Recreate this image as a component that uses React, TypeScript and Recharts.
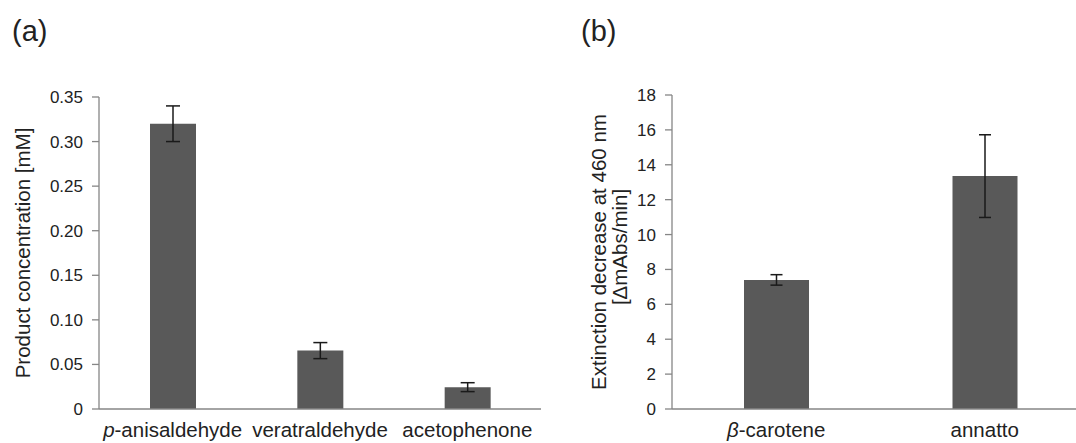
import React from 'react';
import { BarChart, Bar, XAxis, YAxis, ErrorBar, Label } from 'recharts';

const productNames = ['p-anisaldehyde', 'veratraldehyde', 'acetophenone'];
const productValues = [0.32, 0.0655, 0.0245];
const productErrors = [0.02, 0.009, 0.005];
const productTicks = [0, 0.05, 0.1, 0.15, 0.2, 0.25, 0.3, 0.35];

const substrateNames = ['β-carotene', 'annatto'];
const substrateValues = [7.4, 13.35];
const substrateErrors = [0.3, 2.37];
const substrateTicks = [0, 2, 4, 6, 8, 10, 12, 14, 16, 18];

const dataA = productNames.map((name, i) => ({ name, value: productValues[i], err: productErrors[i] }));
const dataB = substrateNames.map((name, i) => ({ name, value: substrateValues[i], err: substrateErrors[i] }));

const FONT = '"Liberation Sans", Arial, sans-serif';
const AXIS = '#868686';
const BAR = '#595959';
const TEXT = '#222';

// category label, prefix before "-" goes italic (p-, β-)
const CatTick = (props: any) => {
  const { x, y, payload } = props;
  const s: string = payload.value;
  const italic = s.indexOf('-') === 1;
  return (
    <text x={x} y={y + 28} textAnchor="middle" fontSize={20.5} fill={TEXT} fontFamily={FONT}>
      {italic ? (
        <>
          <tspan fontStyle="italic">{s.slice(0, 1)}</tspan>
          <tspan>{s.slice(1)}</tspan>
        </>
      ) : (
        s
      )}
    </text>
  );
};

const labelA = (p: any) => {
  const vb = p.viewBox;
  const cy = vb.y + vb.height / 2;
  const lx = vb.x + 30;
  return (
    <g fontFamily={FONT} fill={TEXT}>
      <text x={12} y={41} fontSize={29}>(a)</text>
      <text x={lx} y={cy} fontSize={20.5} textAnchor="middle" transform={`rotate(-90 ${lx} ${cy})`}>
        Product concentration [mM]
      </text>
    </g>
  );
};

const labelB = (p: any) => {
  const vb = p.viewBox;
  const cy = vb.y + vb.height / 2;
  const l1 = vb.x + 66;
  const l2 = vb.x + 87;
  return (
    <g fontFamily={FONT} fill={TEXT}>
      <text x={41} y={41} fontSize={29}>(b)</text>
      <text x={l1} y={cy} fontSize={20.5} textAnchor="middle" transform={`rotate(-90 ${l1} ${cy})`}>
        Extinction decrease at 460 nm
      </text>
      <text x={l2} y={cy - 5} fontSize={20.5} textAnchor="middle" transform={`rotate(-90 ${l2} ${cy - 5})`}>
        [ΔmAbs/min]
      </text>
    </g>
  );
};

export default function App() {
  return (
    <div
      style={{
        position: 'absolute',
        left: 0,
        top: 0,
        width: 1076,
        height: 443,
        overflow: 'hidden',
        background: '#fff',
        fontFamily: FONT,
      }}
    >
      <div style={{ position: 'absolute', left: 0, top: 0 }}>
        <BarChart width={548} height={443} data={dataA} margin={{ top: 97, right: 7, bottom: 0, left: 0 }}>
          <XAxis
            dataKey="name"
            height={34}
            interval={0}
            axisLine={{ stroke: AXIS, strokeWidth: 1.3 }}
            tickLine={false}
            tickSize={0}
            tickMargin={0}
            tick={<CatTick />}
          />
          <YAxis
            width={99}
            domain={[0, 0.35]}
            ticks={productTicks}
            tickFormatter={(v: number) => (v === 0 ? '0' : v.toFixed(2))}
            tick={{ fill: TEXT, fontSize: 17, fontFamily: FONT }}
            tickSize={7}
            tickMargin={9}
            axisLine={{ stroke: AXIS, strokeWidth: 1.3 }}
            tickLine={{ stroke: AXIS, strokeWidth: 1.3 }}
          >
            <Label content={labelA} />
          </YAxis>
          <Bar dataKey="value" fill={BAR} barSize={46} isAnimationActive={false}>
            <ErrorBar dataKey="err" width={7} stroke="#1a1a1a" strokeWidth={1.5} />
          </Bar>
        </BarChart>
      </div>
      <div style={{ position: 'absolute', left: 540, top: 0 }}>
        <BarChart width={560} height={443} data={dataB} margin={{ top: 95, right: 11, bottom: 0, left: 0 }}>
          <XAxis
            dataKey="name"
            height={34}
            interval={0}
            axisLine={{ stroke: AXIS, strokeWidth: 1.3 }}
            tickLine={false}
            tickSize={0}
            tickMargin={0}
            tick={<CatTick />}
          />
          <YAxis
            width={132}
            domain={[0, 18]}
            ticks={substrateTicks}
            tick={{ fill: TEXT, fontSize: 17, fontFamily: FONT }}
            tickSize={7}
            tickMargin={9}
            axisLine={{ stroke: AXIS, strokeWidth: 1.3 }}
            tickLine={{ stroke: AXIS, strokeWidth: 1.3 }}
          >
            <Label content={labelB} />
          </YAxis>
          <Bar dataKey="value" fill={BAR} barSize={65} isAnimationActive={false}>
            <ErrorBar dataKey="err" width={6} stroke="#1a1a1a" strokeWidth={1.5} />
          </Bar>
        </BarChart>
      </div>
    </div>
  );
}
